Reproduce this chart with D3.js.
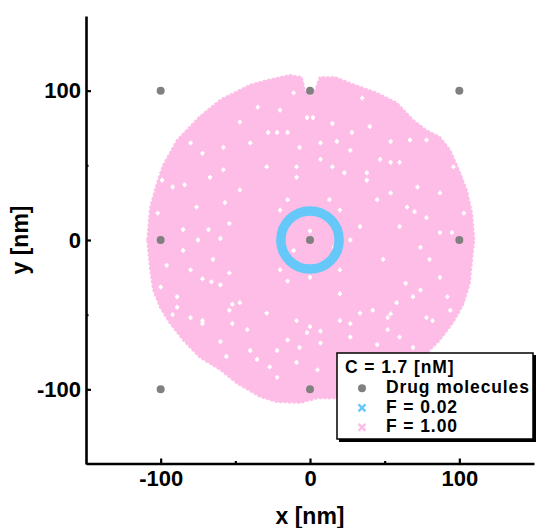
<!DOCTYPE html>
<html><head><meta charset="utf-8">
<script src="https://cdn.jsdelivr.net/npm/d3@7"></script>
<style>body{margin:0;background:#fff}svg{display:block}</style>
</head><body>
<svg id="chart" width="537" height="528"></svg>
<script>
// ---- data ----
const xTicks = [-100, 0, 100];
const yTicks = [-100, 0, 100];
const minorTicks = [-50, 50];
const drugX = [-100, 0, 100, -100, 0, 100, -100, 0, 100];
const drugY = [100, 100, 100, 0, 0, 0, -100, -100, -100];
// outline of the F = 1.00 point cloud (nm)
const cloudEdgeX = [-109, -107, -102.5, -98.5, -89, -74, -60, -47, -40, -29, -13.5, -5.5, -3.5, 0, 3.5, 6.5, 17, 27, 45, 58, 69, 78, 87, 94, 100.5, 105, 108.5, 110, 108.5, 107, 102.5, 96, 87, 77, 60, 40, 20, 5, -6.5, -22, -33.5, -49, -60, -74, -85, -94, -100.5, -105, -107];
const cloudEdgeY = [0, 22, 38, 50, 67, 82.5, 94, 100.5, 104, 107, 110.5, 109, 100.5, 96, 100.5, 109, 109, 105, 98.5, 92, 80.5, 73.5, 69, 60, 45, 33.5, 18, 0, -13.5, -29, -43.5, -55, -67, -77, -90.5, -100.5, -106, -106, -109, -108.5, -105, -96, -87, -78.5, -67, -55.5, -45, -33.5, -20];
// empty spots inside the cloud (nm)
const gapX = [-72, -67, -92, -84, -47, -102, -57, -85, -68, -60, -75, -96, -72, -66, -60, -54, -89, -47, -85, -28, -47, -35, -11, -58, -15, -7, -40, -80, 28, 35, 18, -2, 54, 47, 67, 40, -9, 0, 103, 13, 54, 78, 38, 72, 87, 65, 70, 87, 95, 74, 64, 87, 58, 78, 49, -89, -72, -60, -42, -35.5, -15, -9, -22, -2, -29, 20, 42, 82, 7, 60, -15, 20, 69, -9, 45, -11, -92, -52,
  -99, -76, -54, -65, -80, -100, -54, -72, -29, -58, -9, -20, 2, 15, 7, 60, 38, 15, 27, 45, 23, 7, -22, 96, 78, 33.5, 16, -15, -20, 54, 60, 80, 92, 74, 52, -80, -52, -40, -27, -7, 5, -56, 33.5, 52, 69, 0, 27, 94, 7, -22, 27, 54, -20, 20, -20, 20, 27, 0];
const gapY = [58, 42, 35.5, 37, 33.5, 18, 25, 7, 7, 1, 0, -17, -26, -28, -30, -22, -38, -42, -7, 72, 79, 89, 98.5, 62, 72, 62, 65, 65, 72, 95, 66, 82, 66, 54, 67, 76, 42, 6, 18, 27, 52, 67, 40, 35.5, 5, 22, 19, 31.5, 5, -5, -29, -25, -42, -52, -13, -45, -56, -68, -60, -80, -67, -82, -92, -62, -49, -54, -47, -54, -69, -65, -27.5, -36, -38, -54, -70, -7, -50, -43,
  40, 22, 11, -13, -20, -31.5, -47, -54, 49, 47, 49, 87, 82, 78, 65, 52, 45, 49, 60, 27, 45, 54, 72, 49, 15, 9, -5, 27, 5, 31.5, 9, -13, -38, -33.5, -52, -52, -56, -74, -85, -72, -87, -78, -49, -60, -72, -58, -65, -47, -61, -74, -56, -49.5, 20, 20, -20, -20, 0, -25];
const ringCenterX = 0, ringCenterY = 0, ringRadius = 19.5;
const legendTitle = "C = 1.7 [nM]";
const seriesNames = ["Drug molecules", "F = 0.02", "F = 1.00"];
const xLabel = "x [nm]", yLabel = "y [nm]";

// ---- styles ----
const PINK = "#fdbde6", BLUE = "#66c8f8", GRAY = "#808080";
const FONT = "'Liberation Sans', Arial, Helvetica, sans-serif";

const svg = d3.select("#chart");
const x = d3.scaleLinear().domain([-150, 150]).range([86, 534]);
const y = d3.scaleLinear().domain([-150, 150]).range([464, 16]);

// cloud
const edge = cloudEdgeX.map((v, i) => [x(v), y(cloudEdgeY[i])]);
svg.append("path")
  .attr("d", d3.line().curve(d3.curveLinearClosed)(edge))
  .attr("fill", PINK).attr("stroke", PINK).attr("stroke-width", 2)
  .attr("stroke-dasharray", "3 1.5").attr("stroke-linejoin", "round");

svg.append("g").selectAll("path").data(gapX).join("path")
  .attr("d", (d, i) => {
    const cx = x(d), cy = y(gapY[i]);
    return `M${cx - 2},${cy - 1.2}h4v2.4h-4zM${cx - 0.8},${cy - 2.4}h1.6v4.8h-1.6z`;
  })
  .attr("fill", "#fff");

// ring (F = 0.02)
svg.append("circle")
  .attr("cx", x(ringCenterX)).attr("cy", y(ringCenterY))
  .attr("r", x(ringRadius) - x(0))
  .attr("fill", "none").attr("stroke", BLUE).attr("stroke-width", 9.5);

// drug molecules
svg.append("g").selectAll("circle").data(drugX).join("circle")
  .attr("cx", (d) => x(d)).attr("cy", (d, i) => y(drugY[i]))
  .attr("r", 4).attr("fill", GRAY);

// axes
const fmt = (d) => String(d);
const gx = svg.append("g").attr("transform", "translate(0,463.5)")
  .call(d3.axisBottom(x).tickValues(xTicks).tickFormat(fmt).tickSize(-5).tickSizeOuter(0).tickPadding(7));
const gxm = svg.append("g").attr("transform", "translate(0,463.5)")
  .call(d3.axisBottom(x).tickValues(minorTicks).tickSize(-2.5).tickSizeOuter(0).tickFormat(""));
const gy = svg.append("g").attr("transform", "translate(86,0)")
  .call(d3.axisLeft(y).tickValues(yTicks).tickFormat(fmt).tickSize(-5).tickSizeOuter(0).tickPadding(5));
const gym = svg.append("g").attr("transform", "translate(86,0)")
  .call(d3.axisLeft(y).tickValues(minorTicks).tickSize(-2.5).tickSizeOuter(0).tickFormat(""));
[gx, gxm, gy, gym].forEach(g => {
  g.select(".domain").attr("stroke", "#000").attr("stroke-width", 2.6);
  g.selectAll(".tick line").attr("stroke", "#000").attr("stroke-width", 2.2);
  g.selectAll(".tick text").attr("font-family", FONT).attr("font-weight", "bold")
    .attr("font-size", 22).attr("fill", "#000");
});
gxm.select(".domain").remove();
gym.select(".domain").remove();

// axis labels
svg.append("text").attr("x", 310).attr("y", 524).attr("text-anchor", "middle")
  .attr("font-family", FONT).attr("font-weight", "bold").attr("font-size", 23).text(xLabel);
svg.append("text").attr("transform", "translate(28,240) rotate(-90)").attr("text-anchor", "middle")
  .attr("font-family", FONT).attr("font-weight", "bold").attr("font-size", 23).text(yLabel);

// legend
const LFS = 17.5, LSP = 0.9;
const lg = svg.append("g");
lg.append("rect").attr("x", 339).attr("y", 355).attr("width", 197).attr("height", 87).attr("fill", "#000");
lg.append("rect").attr("x", 337).attr("y", 353).attr("width", 196).attr("height", 86)
  .attr("fill", "#fff").attr("stroke", "#000").attr("stroke-width", 1.5);
lg.append("text").attr("x", 345).attr("y", 373.4).attr("font-family", FONT).attr("font-weight", "bold")
  .attr("font-size", LFS).attr("letter-spacing", LSP).text(legendTitle);
const rowY = [393.2, 412.8, 432.4];
seriesNames.forEach((name, i) => {
  lg.append("text").attr("x", 386).attr("y", rowY[i]).attr("font-family", FONT)
    .attr("font-weight", "bold").attr("font-size", LFS).attr("letter-spacing", LSP).text(name);
  const cy = rowY[i] - 5;
  if (i === 0) {
    lg.append("circle").attr("cx", 362).attr("cy", cy).attr("r", 4).attr("fill", GRAY);
  } else {
    const c = i === 1 ? BLUE : PINK;
    lg.append("path").attr("d", `M${358.5},${cy - 3.5}L${365.5},${cy + 3.5}M${358.5},${cy + 3.5}L${365.5},${cy - 3.5}`)
      .attr("stroke", c).attr("stroke-width", 2.4).attr("fill", "none");
  }
});
</script>
</body></html>
